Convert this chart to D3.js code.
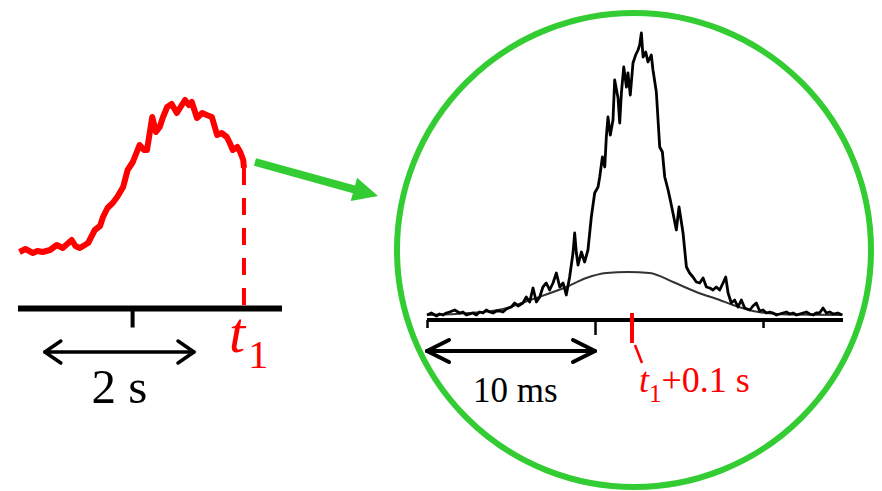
<!DOCTYPE html>
<html>
<head>
<meta charset="utf-8">
<script src="https://cdn.jsdelivr.net/npm/d3@7"></script>
<style>
  body { margin: 0; background: #fff; }
  svg { display: block; }
  text, tspan { font-family: "Liberation Serif", "Times New Roman", serif; }
</style>
</head>
<body>
<div id="chart"></div>
<script>
// slow trace (left), time in s relative to t1
var slowTime = [-3.01, -2.93, -2.83, -2.77, -2.70, -2.60, -2.51, -2.43, -2.31, -2.26, -2.20, -2.09,
  -2.00, -1.93, -1.89, -1.83, -1.76, -1.70, -1.62, -1.56, -1.49, -1.40, -1.34, -1.30, -1.23, -1.18,
  -1.13, -1.09, -1.03, -0.97, -0.90, -0.85, -0.79, -0.74, -0.70, -0.63, -0.56, -0.50, -0.43, -0.36,
  -0.30, -0.23, -0.19, -0.15, -0.09, -0.05, -0.01, 0];
var slowValue = [1, 4, 0, 2, 1, 3, 8, 5, 13, 7, 5, 10,
  23, 27, 36, 45, 50, 56, 66, 83, 91, 108, 103, 103, 136, 121,
  126, 135, 146, 149, 140, 146, 153, 148, 151, 135, 140, 138, 136, 118,
  120, 116, 110, 103, 106, 101, 93, 85];
var slowTicks = [-1.5];
var slowScaleBar = [-2.67, -0.67];

// fast trace (right), time in ms
var fastTime = [0, 0.26, 0.56, 0.75, 0.95, 1.15, 1.35, 1.65, 1.94, 2.14, 2.34, 2.54, 2.74, 2.94, 3.13,
  3.33, 3.53, 3.73, 3.93, 4.13, 4.33, 4.52, 4.72,
  5.02, 5.22, 5.42, 5.71, 5.91, 6.11, 6.31, 6.51, 6.71, 6.90, 7.10, 7.30, 7.50, 7.70, 7.90, 8.10,
  8.29, 8.49, 8.69, 8.79, 8.89, 8.99, 9.19, 9.38, 9.58, 9.78, 9.98, 10.18, 10.28, 10.44, 10.58,
  10.67, 10.77, 10.91, 11.07, 11.17, 11.37, 11.47, 11.57, 11.71, 11.87, 11.96, 12.10, 12.26, 12.42,
  12.56, 12.66, 12.76, 12.86, 13.02, 13.15, 13.35, 13.45, 13.65, 13.85, 14.01, 14.15, 14.35, 14.48,
  14.64, 14.84, 15.00, 15.24, 15.44, 15.63, 15.83, 16.03, 16.23, 16.43, 16.63, 16.83, 17.02, 17.22,
  17.42, 17.62, 17.78, 17.92, 18.11, 18.31, 18.51, 18.71, 18.91, 19.21, 19.40, 19.60, 19.80, 20.00,
  20.20, 20.40, 20.60, 20.80, 20.99, 21.19, 21.39, 21.59, 21.79, 21.99, 22.18, 22.38, 22.58, 22.78,
  22.98, 23.17, 23.37, 23.57, 23.77, 23.97, 24.17, 24.45, 24.72];
var fastValue = [0, 2, -1, 1, 0, 2, 3, 5, 2, 3, 0, 1, 2, 0, 3,
  2, 5, 3, 2, 4, 4, 3, 6,
  8, 12, 9, 12, 18, 13, 27, 13, 18, 28, 32, 25, 32, 42, 28, 32,
  20, 38, 62, 82, 62, 50, 63, 53, 65, 98, 122, 128, 138, 158, 148,
  177, 198, 180, 195, 235, 217, 192, 222, 248, 228, 242, 220, 252, 260,
  265, 270, 282, 258, 263, 253, 260, 245, 223, 168, 163, 138, 125, 115,
  102, 85, 108, 82, 48, 42, 38, 33, 32, 37, 28, 27, 25, 28,
  25, 32, 38, 22, 12, 15, 8, 15, 7, 5, 9, 12, 4, 5,
  2, 3, 2, 0, 1, 2, 3, 1, 2, 0, 1, 2, 3, 1,
  0, 2, 2, 7, 2, 3, 1, 2, 0];
// smooth fit curve
var fitTime = [0, 2.54, 4.52, 6.31, 8.29, 9.48, 10.67, 11.96, 13.25, 14.64, 16.03, 17.42, 18.21, 19.40, 21.39, 24.72];
var fitValue = [0, 2, 6, 16, 28, 37, 42, 43, 42, 33, 23, 15, 10, 4, 0.5, 0];
var fastTicks = [0, 10, 20];
var fastMarker = 12.2;
var fastScaleBar = [0, 10];

var green = '#33cc33';
var red = '#ff0000';

var svg = d3.select('#chart').append('svg')
  .attr('width', 882)
  .attr('height', 491);

// ---------- left panel ----------
var xs = d3.scaleLinear().domain([-3.03, 0.51]).range([18, 282]);
var ys = d3.scaleLinear().domain([0, 153]).range([253, 100]);
var slow = slowTime.map((t, i) => ({ t: t, v: slowValue[i] }));

var left = svg.append('g');

left.append('path')
  .datum(slow)
  .attr('fill', 'none')
  .attr('stroke', red)
  .attr('stroke-width', 6)
  .attr('stroke-linejoin', 'round')
  .attr('d', d3.line().x(d => xs(d.t)).y(d => ys(d.v)));

left.append('line')
  .attr('x1', xs(0)).attr('x2', xs(0))
  .attr('y1', ys(slowValue[slowValue.length - 1])).attr('y2', 307)
  .attr('stroke', red)
  .attr('stroke-width', 4)
  .attr('stroke-dasharray', '17,13');

var slowAxis = d3.axisBottom(xs).tickValues(slowTicks).tickSize(19).tickFormat('');
left.append('g')
  .attr('transform', 'translate(0,308.5)')
  .call(slowAxis)
  .call(g => g.select('.domain').attr('stroke', '#000').attr('stroke-width', 6)
    .attr('d', `M${xs.range()[0]},0H${xs.range()[1]}`))
  .call(g => g.selectAll('.tick line').attr('stroke', '#000').attr('stroke-width', 4));

function doubleArrow(g, x1, x2, y, head, half, w) {
  var p = g.append('g').attr('fill', 'none').attr('stroke', '#000')
    .attr('stroke-width', w).attr('stroke-linecap', 'round').attr('stroke-linejoin', 'round');
  p.append('line').attr('x1', x1).attr('x2', x2).attr('y1', y).attr('y2', y);
  p.append('path').attr('d', `M${x1 + head},${y - half}L${x1},${y}L${x1 + head},${y + half}`);
  p.append('path').attr('d', `M${x2 - head},${y - half}L${x2},${y}L${x2 - head},${y + half}`);
}

doubleArrow(left, xs(slowScaleBar[0]), xs(slowScaleBar[1]), 352, 16, 11, 3.5);

left.append('text')
  .attr('x', (xs(slowScaleBar[0]) + xs(slowScaleBar[1])) / 2)
  .attr('y', 403)
  .attr('text-anchor', 'middle')
  .style('font-size', '49px')
  .text('2 s');

var t1 = left.append('text')
  .attr('x', 229)
  .attr('y', 352)
  .attr('fill', red);
t1.append('tspan').style('font-size', '58px').style('font-style', 'italic').text('t');
t1.append('tspan').attr('dx', 3).attr('dy', 16).style('font-size', '40px').text('1');

// ---------- green arrow ----------
var a0 = [255, 162], a1 = [378, 196];
var dx = a1[0] - a0[0], dy = a1[1] - a0[1], len = Math.hypot(dx, dy);
var ux = dx / len, uy = dy / len;
var bx = a1[0] - 25 * ux, by = a1[1] - 25 * uy;
svg.append('line')
  .attr('x1', a0[0]).attr('y1', a0[1]).attr('x2', bx + ux).attr('y2', by + uy)
  .attr('stroke', green).attr('stroke-width', 8);
svg.append('path')
  .attr('fill', green)
  .attr('d', `M${a1[0]},${a1[1]}L${bx - 12 * uy},${by + 12 * ux}L${bx + 12 * uy},${by - 12 * ux}Z`);

// ---------- right panel ----------
svg.append('circle')
  .attr('cx', 634).attr('cy', 250).attr('r', 237)
  .attr('fill', 'none')
  .attr('stroke', green)
  .attr('stroke-width', 6);

var xf = d3.scaleLinear().domain([0, 24.76]).range([427, 843]);
var yf = d3.scaleLinear().domain([0, 282]).range([315, 33]);
var fast = fastTime.map((t, i) => ({ t: t, v: fastValue[i] }));
var fit = fitTime.map((t, i) => ({ t: t, v: fitValue[i] }));

var right = svg.append('g');

right.append('path')
  .datum(fit)
  .attr('fill', 'none')
  .attr('stroke', '#333')
  .attr('stroke-width', 2)
  .attr('d', d3.line().curve(d3.curveMonotoneX).x(d => xf(d.t)).y(d => yf(d.v)));

right.append('path')
  .datum(fast)
  .attr('fill', 'none')
  .attr('stroke', '#000')
  .attr('stroke-width', 2.8)
  .attr('stroke-linejoin', 'round')
  .attr('d', d3.line().x(d => xf(d.t)).y(d => yf(d.v)));

var fastAxis = d3.axisBottom(xf).tickValues(fastTicks).tickSize(9).tickFormat('');
right.append('g')
  .attr('transform', 'translate(0,320)')
  .call(fastAxis)
  .call(g => g.select('.domain').attr('stroke', '#000').attr('stroke-width', 4)
    .attr('d', `M${xf.range()[0]},0H${xf.range()[1]}`))
  .call(g => g.selectAll('.tick line').attr('stroke', '#000').attr('stroke-width', 2.5)
    .attr('y2', d => d === 10 ? 15 : 8));

right.append('line')
  .attr('x1', xf(fastMarker)).attr('x2', xf(fastMarker))
  .attr('y1', 313).attr('y2', 343)
  .attr('stroke', red).attr('stroke-width', 4);
right.append('line')
  .attr('x1', xf(fastMarker) + 3).attr('y1', 345)
  .attr('x2', xf(fastMarker) + 10).attr('y2', 363)
  .attr('stroke', red).attr('stroke-width', 2.5);

doubleArrow(right, xf(fastScaleBar[0]), xf(fastScaleBar[1]), 351, 22, 11, 4);

right.append('text')
  .attr('x', 473)
  .attr('y', 402)
  .style('font-size', '35px')
  .text('10 ms');

var lab = right.append('text')
  .attr('x', 639)
  .attr('y', 392)
  .attr('fill', red);
lab.append('tspan').style('font-size', '36px').style('font-style', 'italic').text('t');
lab.append('tspan').attr('dy', 10).style('font-size', '25px').text('1');
lab.append('tspan').attr('dy', -10).style('font-size', '36px').text('+0.1 s');
</script>
</body>
</html>
